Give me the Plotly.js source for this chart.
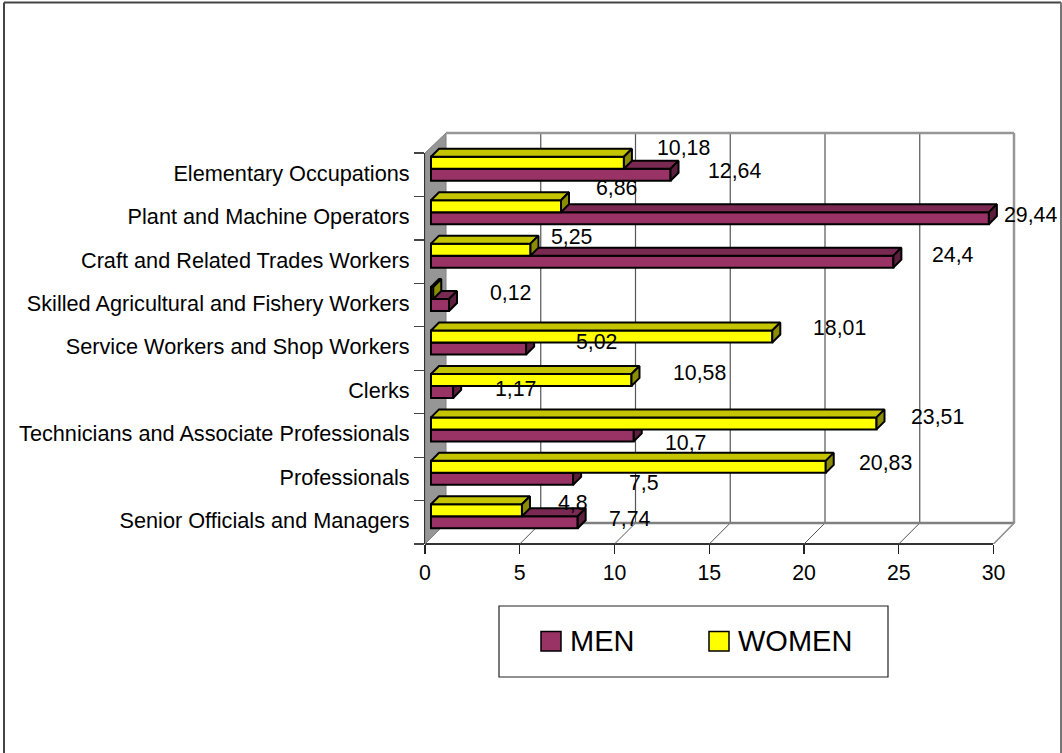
<!DOCTYPE html>
<html><head><meta charset="utf-8">
<script src="https://cdn.plot.ly/plotly-3.0.1.min.js"></script>
<style>html,body{margin:0;padding:0;background:#fff}</style></head>
<body><div id="chart" style="width:1062px;height:753px"></div>
<script>
const categories = ["Senior Officials and Managers","Professionals","Technicians and Associate Professionals","Clerks","Service Workers and Shop Workers","Skilled Agricultural and Fishery Workers","Craft and Related Trades Workers","Plant and Machine Operators","Elementary Occupations"];
const men   = [7.74,7.5,10.7,1.17,5.02,0.95,24.4,29.44,12.64];
const women = [4.8,20.83,23.51,10.58,18.01,0.12,5.25,6.86,10.18];
const menLabels   = ["7,74","7,5","10,7","1,17","5,02","","24,4","29,44","12,64"];
const womenLabels = ["4,8","20,83","23,51","10,58","18,01","0,12","5,25","6,86","10,18"];
const xTicks = [0,5,10,15,20,25,30];

// pixel geometry of the pseudo-3D frame
const W=1062,H=753,X0=425,Y0=544,UX=18.95,UY=43.44,DEPTH=21,INSET=6,BAR_D=8,BAR_H=12;
const px=1/UX, py=1/UY;
const XEND=1018,YEND=129;
const xMax=(XEND-X0)*px, yMax=(Y0-YEND)*py, topY=(Y0-133)*py, rightX=(1014-X0)*px;
const xp=p=>p/W, yp=p=>1-p/H;
// label centres relative to the bar end: [dx,dy] in pixels
const menShift=[[52,-3],[71,4],[52,8],[62,-3],[70,-6.5],[0,0],[60,-7],[42,-3],[63.5,-4]];
const womenShift=[[51,-7],[60,-4],[60.5,-6],[68.5,-7],[67,-8.5],[77,0],[41.5,-12.6],[55,-18],[60,-15]];

function faces(vals,sign,top,side,axX,axY,name){
  const out=[];
  const tr=(xs,ys,c)=>({type:'scatter',mode:'lines',x:xs,y:ys,fill:'toself',fillcolor:c,
    line:{color:'#000',width:2},xaxis:axX,yaxis:axY,hoverinfo:'skip',showlegend:false,cliponaxis:false,name});
  vals.forEach((v,i)=>{
    const base=INSET*px, end=base+v;
    const yc=i+0.5+INSET*py+sign*BAR_H/2*py;
    const yT=yc+BAR_H/2*py, yB=yc-BAR_H/2*py, dx=BAR_D*px, dy=BAR_D*py;
    out.push(tr([base,base+dx,end+dx,end,base],[yT,yT+dy,yT+dy,yT,yT],top));
    out.push(tr([end,end+dx,end+dx,end,end],[yT,yT+dy,yB+dy,yB,yT],side));
  });
  return out;
}
function bars(vals,sign,color,axX,axY,name){
  return {type:'bar',orientation:'h',name,x:vals,
    y:vals.map((_,i)=>i+0.5+INSET*py+sign*BAR_H/2*py),
    base:vals.map(()=>INSET*px),width:BAR_H*py,
    marker:{color,line:{color:'#000',width:2}},xaxis:axX,yaxis:axY,showlegend:false,hoverinfo:'x'};
}
const data=[
  bars(men,-1,'#993366','x','y','MEN'),
  ...faces(men,-1,'#7a2952','#5c1f3d','x','y','MEN'),
  bars(women,1,'#ffff00','x2','y2','WOMEN'),
  ...faces(women,1,'#c4c400','#8c8c00','x2','y2','WOMEN')
];

const d=DEPTH;
const line=(x0,y0,x1,y1,color,width,layer='below')=>({type:'line',xref:'x',yref:'y',x0,y0,x1,y1,layer,line:{color,width}});
const pline=(x0,y0,x1,y1,color,width)=>({type:'line',xref:'paper',yref:'paper',layer:'below',x0:xp(x0),y0:yp(y0),x1:xp(x1),y1:yp(y1),line:{color,width}});
const shapes=[
  {type:'path',xref:'x',yref:'y',layer:'below',fillcolor:'#969696',line:{color:'#808080',width:1},
   path:`M0,0 L${d*px},${d*py} L${d*px},${topY} L0,9 Z`},
  ...xTicks.slice(1,-1).map(t=>line(t+d*px,d*py,t+d*px,topY,'#555',1.2)),
  ...xTicks.slice(1).map(t=>line(t,0,t+d*px,d*py,'#555',1)),
  line(d*px,topY,rightX,topY,'#969696',2.5),
  line(rightX,topY,rightX,d*py,'#969696',2.5),
  line(d*px,d*py,rightX,d*py,'#808080',2.5),
  line(30,0,rightX,d*py,'#969696',1.5),
  pline(X0,Y0,993,Y0,'#333',2),
  pline(X0,153,X0,Y0,'#333',2),
  // outer frame
  pline(4,2.5,1061,2.5,'#444',2),
  pline(4,2.5,4,753,'#444',2),
  pline(1061,2.5,1061,753,'#777',2),
  // legend
  {type:'rect',xref:'paper',yref:'paper',x0:xp(499),x1:xp(888),y0:yp(677),y1:yp(606),fillcolor:'#fff',line:{color:'#222',width:1.2}},
  {type:'rect',xref:'paper',yref:'paper',x0:xp(541),x1:xp(561),y0:yp(651),y1:yp(631.5),fillcolor:'#993366',line:{color:'#000',width:1.5}},
  {type:'rect',xref:'paper',yref:'paper',x0:xp(709),x1:xp(729),y0:yp(651),y1:yp(631.5),fillcolor:'#ffff00',line:{color:'#000',width:1.5}}
];
const labelFont={family:'Liberation Sans, Arial, sans-serif',size:21.3,color:'#000'};
const categoryFont={family:'Liberation Sans, Arial, sans-serif',size:21.7,color:'#000'};
const ann=(vals,labels,sign,shift)=>vals.map((v,i)=>({
  text:labels[i],xref:'x',yref:'y',x:INSET*px+v,y:i+0.5+INSET*py+sign*BAR_H/2*py,
  xshift:shift[i][0],yshift:-shift[i][1],showarrow:false,font:labelFont,xanchor:'center',yanchor:'middle'
})).filter(a=>a.text);
const legendText=(t,x)=>({text:t,xref:'paper',yref:'paper',x:xp(x),y:yp(641),xanchor:'left',yanchor:'middle',showarrow:false,borderpad:0,
  font:{family:'Liberation Sans, Arial, sans-serif',size:29,color:'#000'}});

const layout={
  width:W,height:H,margin:{l:0,r:0,t:0,b:0,pad:0},paper_bgcolor:'#fff',plot_bgcolor:'rgba(0,0,0,0)',
  barmode:'overlay',showlegend:false,
  xaxis:{domain:[xp(X0),xp(XEND)],range:[0,xMax],tickmode:'array',tickvals:xTicks,ticktext:xTicks.map(String),
    ticks:'outside',ticklen:9,tickcolor:'#222',tickwidth:1.2,showgrid:false,zeroline:false,showline:false,automargin:false,
    tickfont:labelFont,fixedrange:true},
  yaxis:{domain:[yp(Y0),yp(YEND)],range:[0,yMax],tickmode:'array',tickvals:categories.map((_,i)=>i+0.54),ticktext:categories,
    ticks:'outside',ticklen:10,tickcolor:'rgba(0,0,0,0)',ticklabelstandoff:0,
    minor:{tickmode:'array',tickvals:[0,1,2,3,4,5,6,7,8,9],ticks:'outside',ticklen:10,tickcolor:'#444',tickwidth:1.2,showgrid:false},
    showgrid:false,zeroline:false,showline:false,automargin:false,tickfont:categoryFont,fixedrange:true},
  xaxis2:{overlaying:'x',domain:[xp(X0),xp(XEND)],range:[0,xMax],visible:false,anchor:'y2'},
  yaxis2:{overlaying:'y',domain:[yp(Y0),yp(YEND)],range:[0,yMax],visible:false,anchor:'x2'},
  shapes,
  annotations:[...ann(men,menLabels,-1,menShift),...ann(women,womenLabels,1,womenShift),legendText('MEN',569),legendText('WOMEN',737)]
};
Plotly.newPlot('chart',data,layout,{displayModeBar:false,staticPlot:true});
</script></body></html>
